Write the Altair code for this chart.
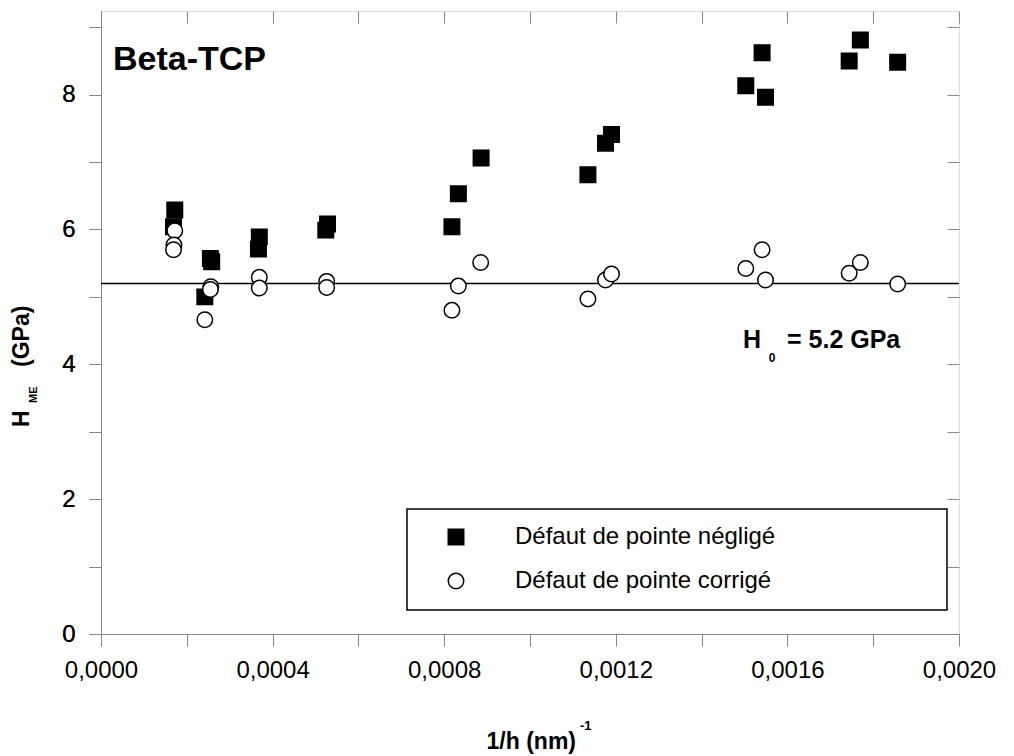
import altair as alt
import pandas as pd

# ---------------- data ----------------
series_names = ["Défaut de pointe négligé", "Défaut de pointe corrigé"]

neg_x = [0.000172, 0.000169, 0.000242, 0.000255, 0.000258, 0.000369, 0.000367,
         0.000528, 0.000524, 0.000818, 0.000833, 0.000886, 0.001135, 0.001176,
         0.001190, 0.001503, 0.001541, 0.001549, 0.001744, 0.001770, 0.001857]
neg_y = [6.29, 6.04, 5.00, 5.57, 5.52, 5.89, 5.71,
         6.08, 5.99, 6.04, 6.53, 7.06, 6.81, 7.28,
         7.41, 8.13, 8.62, 7.96, 8.50, 8.81, 8.48]

cor_x = [0.000172, 0.000170, 0.000169, 0.000242, 0.000256, 0.000255, 0.000369,
         0.000369, 0.000526, 0.000526, 0.000818, 0.000833, 0.000885, 0.001135,
         0.001176, 0.001190, 0.001503, 0.001541, 0.001549, 0.001744, 0.001770,
         0.001857]
cor_y = [5.98, 5.77, 5.70, 4.66, 5.15, 5.11, 5.29,
         5.13, 5.23, 5.14, 4.80, 5.16, 5.51, 4.97,
         5.25, 5.34, 5.42, 5.70, 5.25, 5.35, 5.51,
         5.19]

h0_value = 5.2
x_ticks = [0.0, 0.0002, 0.0004, 0.0006, 0.0008, 0.0010, 0.0012, 0.0014, 0.0016, 0.0018, 0.0020]
y_ticks = [0, 1, 2, 3, 4, 5, 6, 7, 8, 9]
x_domain = [0.0, 0.002]
y_domain = [0.0, 9.24]

title_text = "Beta-TCP"
h0_main = "H"
h0_sub = "0"
h0_rest = "= 5.2 GPa"
ylab_main = "H"
ylab_sub = "ME"
ylab_rest = "(GPa)"
xlab_main = "1/h (nm)"
xlab_sup = "-1"

FONT = "Liberation Sans"

df = pd.DataFrame({
    "x": neg_x + cor_x,
    "y": neg_y + cor_y,
    "series": [series_names[0]] * len(neg_x) + [series_names[1]] * len(cor_x),
})

W, H = 858, 623

xscale = alt.Scale(domain=x_domain, nice=False, zero=False)
yscale = alt.Scale(domain=y_domain, nice=False, zero=False)

bottom_axis = alt.Axis(
    orient="bottom", values=x_ticks, tickSize=12, labelPadding=12,
    labelFontSize=24, labelFont=FONT, labelFlush=False, labelOverlap=False,
    labelExpr="round(datum.value*10000) % 4 == 0 ? replace(format(datum.value, '.4f'), '.', ',') : ''",
    title=None, grid=False,
)
left_axis = alt.Axis(
    orient="left", values=y_ticks, tickSize=12, labelPadding=14,
    labelFontSize=24, labelFont=FONT, labelFlush=False, labelOverlap=False,
    labelExpr="datum.value % 2 == 0 ? datum.label : ''",
    title=None, grid=False,
)
top_axis = alt.Axis(orient="top", values=x_ticks, tickSize=12, offset=-12,
                    domain=False, labels=False, title=None, grid=False)
right_axis = alt.Axis(orient="right", values=y_ticks, tickSize=12, offset=-12,
                      domain=False, labels=False, title=None, grid=False)

legend = alt.Legend(
    title=None, orient="none", legendX=343, legendY=514,
    labelFontSize=24, labelFont=FONT, labelColor="black", labelLimit=800,
    symbolSize=240, symbolStrokeWidth=1.5, labelOffset=47,
    rowPadding=20, padding=0,
)

# frame box of the legend
box = alt.Chart(pd.DataFrame({"a": [0]})).mark_rect(
    fill="white", stroke="black", strokeWidth=1.5
).encode(x=alt.value(306), x2=alt.value(846), y=alt.value(498), y2=alt.value(599))

h0_line = alt.Chart(pd.DataFrame({"h0": [h0_value]})).mark_rule(
    color="black", strokeWidth=1.5
).encode(y=alt.Y("h0:Q", scale=yscale, axis=left_axis))

points = alt.Chart(df).mark_point(strokeWidth=1.5, opacity=1, size=240).encode(
    x=alt.X("x:Q", scale=xscale, axis=bottom_axis),
    y=alt.Y("y:Q", scale=yscale, axis=left_axis),
    shape=alt.Shape("series:N", scale=alt.Scale(domain=series_names, range=["square", "circle"]), legend=legend),
    fill=alt.Fill("series:N", scale=alt.Scale(domain=series_names, range=["black", "white"]), legend=legend),
    stroke=alt.Stroke("series:N", scale=alt.Scale(domain=series_names, range=["black", "black"]), legend=legend),
)

ghost = alt.Chart(df).mark_point(opacity=0).encode(
    x=alt.X("x:Q", scale=xscale, axis=top_axis),
    y=alt.Y("y:Q", scale=yscale, axis=right_axis),
)


def txt(s, x, y, size, bold=True, align="left", baseline="alphabetic", angle=0):
    props = dict(font=FONT, fontSize=size, fontWeight="bold" if bold else "normal",
                 align=align, baseline=baseline, color="black")
    if angle:
        props["angle"] = angle
    return alt.Chart(pd.DataFrame({"t": [s]})).mark_text(**props).encode(
        text="t:N", x=alt.value(x), y=alt.value(y))


annotations = [
    txt(title_text, 12, 59, 34),
    txt(h0_main, 642, 337, 25),
    txt(h0_sub, 671, 351, 12, align="center"),
    txt(h0_rest, 686, 337, 25),
    txt(ylab_main, -79, 416, 23, align="left", baseline="middle", angle=270),
    txt(ylab_sub, -67, 392, 11, align="left", baseline="middle", angle=270),
    txt(ylab_rest, -79, 356, 23, align="left", baseline="middle", angle=270),
    txt(xlab_main, 475, 738, 23, align="right"),
    txt(xlab_sup, 479, 719, 13),
]

chart = alt.layer(h0_line, box, points, ghost, *annotations).resolve_axis(
    x="independent", y="independent"
).properties(
    width=W, height=H,
    autosize=alt.AutoSizeParams(type="none"),
    padding={"left": 101, "top": 11, "right": 55, "bottom": 122},
).configure_view(
    stroke="black", strokeWidth=2
).configure_axis(
    domainColor="black", domainWidth=2, tickColor="black", tickWidth=2,
    labelColor="black",
).configure(background="white")

chart.save("out.html", embed_options={"renderer": "svg", "actions": False})
